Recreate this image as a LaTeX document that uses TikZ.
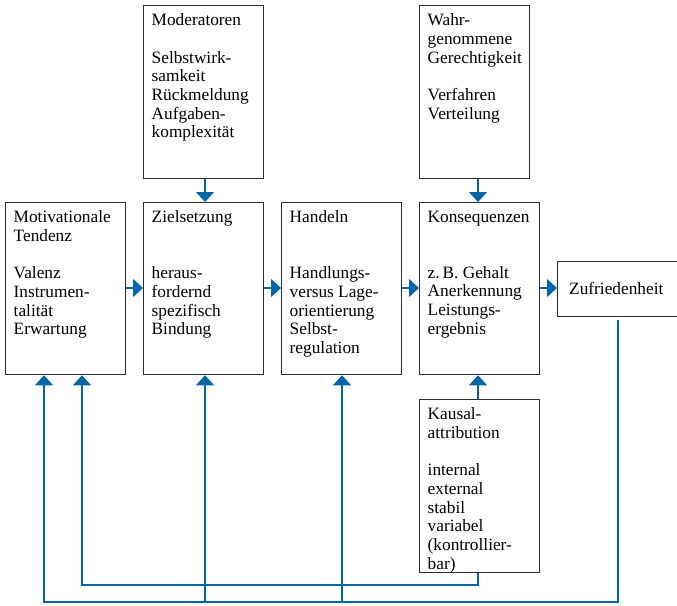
\documentclass[tikz,border=0pt]{standalone}
\usepackage{fontspec}
\setmainfont{Liberation Serif}
\usetikzlibrary{arrows.meta,calc}
\definecolor{fblue}{RGB}{0,102,168}
\definecolor{fgray}{RGB}{45,45,45}
\tikzset{
  box/.style={draw=fgray, line width=1.3pt, rectangle, anchor=north west, inner sep=0pt},
  txt/.style={anchor=north west, align=left, inner sep=0pt, font=\fontsize{17.3}{18.7}\selectfont},
  arr/.style={draw=fblue, line width=1.2pt, -{Triangle[width=18pt,length=10pt]}},
  ln/.style={draw=fblue, line width=1.2pt},
}
\begin{document}
\begin{tikzpicture}[x=1pt,y=-1pt]
\useasboundingbox (0,0) rectangle (677,605);
% boxes
\node[box, minimum width=120pt, minimum height=173pt] (mod) at (143,5) {};
\node[box, minimum width=110pt, minimum height=173pt] (wah) at (419,5) {};
\node[box, minimum width=120pt, minimum height=172pt] (mot) at (5,202) {};
\node[box, minimum width=120pt, minimum height=172pt] (zie) at (143,202) {};
\node[box, minimum width=120pt, minimum height=172pt] (han) at (281,202) {};
\node[box, minimum width=120pt, minimum height=172pt] (kon) at (419,202) {};
\node[box, minimum width=125pt, minimum height=55pt] (zuf) at (557,261) {};
\node[box, minimum width=120pt, minimum height=173pt] (kau) at (419,399) {};
% texts
\node[txt] (modT) at ([shift={(8.5,8.5)}]mod.north west) {Moderatoren\\[18.7pt]Selbstwirk-\\samkeit\\Rückmeldung\\Aufgaben-\\komplexität};
\node[txt] (wahT) at ([shift={(8.5,8.5)}]wah.north west) {Wahr-\\genommene\\Gerechtigkeit\\[18.7pt]Verfahren\\Verteilung};
\node[txt] (motT) at ([shift={(8.5,8.5)}]mot.north west) {Motivationale\\Tendenz\\[18.7pt]Valenz\\Instrumen-\\talität\\Erwartung};
\node[txt] (zieT) at ([shift={(8.5,8.5)}]zie.north west) {Zielsetzung\\[37.4pt]heraus-\\fordernd\\spezifisch\\Bindung};
\node[txt] (hanT) at ([shift={(8.5,8.5)}]han.north west) {Handeln\\[37.4pt]Handlungs-\\versus Lage-\\orientierung\\Selbst-\\regulation};
\node[txt] (konT) at ([shift={(8.5,8.5)}]kon.north west) {Konsequenzen\\[37.4pt]z.\,B. Gehalt\\Anerkennung\\Leistungs-\\ergebnis};
\node[txt, anchor=base west] (zufT) at (569,294) {Zufriedenheit};
\node[txt] (kauT) at ([shift={(8.5,8.5)}]kau.north west) {Kausal-\\attribution\\[18.7pt]internal\\external\\stabil\\variabel\\(kontrollier-\\bar)};
% forward arrows
\draw[arr] (mot.east |- 0,288) -- (zie.west |- 0,288);
\draw[arr] (zie.east |- 0,288) -- (han.west |- 0,288);
\draw[arr] (han.east |- 0,288) -- (kon.west |- 0,288);
\draw[arr] (kon.east |- 0,288) -- (zuf.west |- 0,288);
% top arrows
\draw[arr] (mod.south -| 205,0) -- (zie.north -| 205,0);
\draw[arr] (wah.south -| 478,0) -- (kon.north -| 478,0);
\draw[arr] (kau.north -| 478,0) -- (kon.south -| 478,0);
% feedback loops
\coordinate (k1) at (478,585);
\coordinate (k2) at (82,585);
\draw[arr] (kau.south -| k1) -- (k1) -- (k2) -- (mot.south -| k2);
\coordinate (z1) at (618,602);
\coordinate (z2) at (44,602);
\coordinate (zb) at (618,320);
\draw[arr] (zb) -- (z1) -- (z2) -- (mot.south -| z2);
\coordinate (b1) at (205,602);
\coordinate (b2) at (342,602);
\draw[arr] (b1) -- (zie.south -| b1);
\draw[arr] (b2) -- (han.south -| b2);
\end{tikzpicture}
\end{document}
